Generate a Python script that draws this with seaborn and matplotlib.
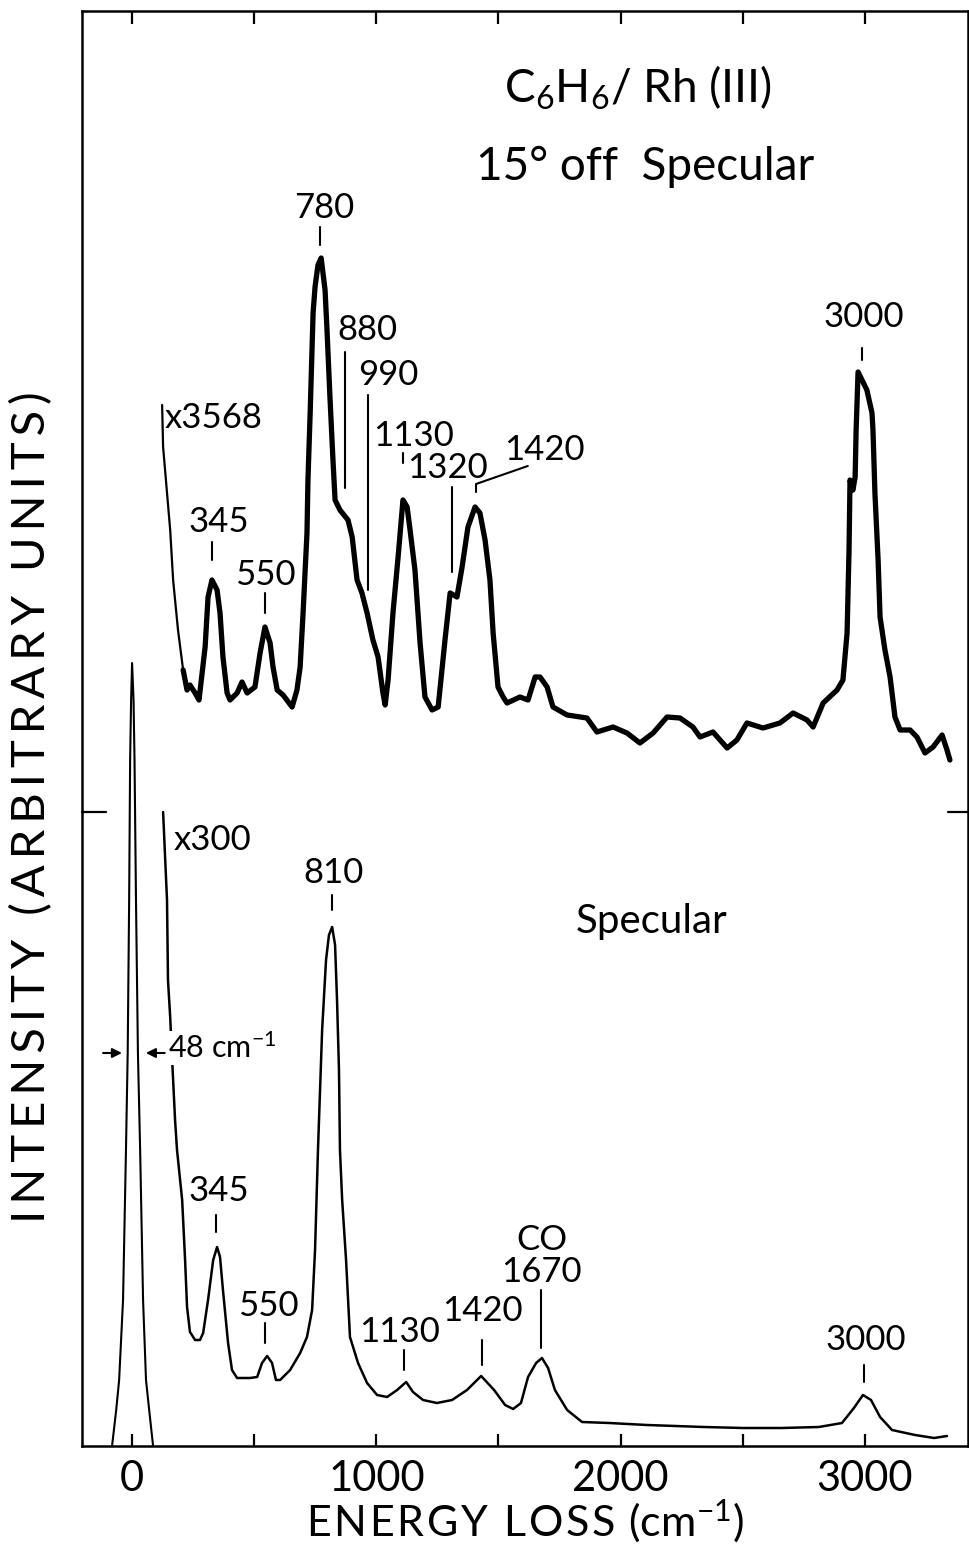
import matplotlib
matplotlib.use("Agg")
import matplotlib.pyplot as plt
import seaborn as sns
import pandas as pd

# ---------------- data (energy loss in cm^-1, intensity in arbitrary units) ----------------
elastic_energy = [-82, -65, -53, -37, -25, -18, -12, -8, -4, 0, 6, 10, 16, 24, 33, 45, 57, 70, 86]
elastic_intensity = [0, 36, 66, 146, 296, 392, 546, 686, 746, 783, 746, 686, 546, 392, 296, 146, 66, 36, 0]

specular_energy = [127, 143, 147, 156, 164, 176, 184, 205, 217, 225, 237, 258, 278, 291, 311, 332,
                   348, 360, 372, 393, 409, 430, 483, 512, 532, 553, 573, 589, 606, 647, 688, 716,
                   737, 749, 761, 778, 794, 806, 819, 831, 839, 847, 851, 860, 876, 892, 925, 962,
                   1003, 1044, 1085, 1122, 1150, 1191, 1248, 1310, 1371, 1429, 1482, 1527, 1560,
                   1592, 1621, 1654, 1678, 1703, 1731, 1781, 1842, 1953, 2108, 2341, 2501, 2657,
                   2812, 2906, 2955, 2992, 3025, 3062, 3111, 3205, 3283, 3336]
specular_intensity = [634, 546, 466, 429, 386, 326, 296, 246, 186, 139, 114, 106, 106, 113, 146, 186,
                      199, 189, 156, 103, 76, 68, 68, 69, 83, 90, 83, 66, 66, 76, 93, 109,
                      136, 196, 296, 416, 486, 511, 519, 501, 446, 376, 296, 246, 186, 109, 83, 63,
                      51, 49, 56, 64, 54, 46, 43, 46, 56, 70, 56, 41, 37,
                      43, 69, 83, 88, 78, 56, 36, 24, 23, 21, 19, 18, 18,
                      19, 23, 38, 51, 46, 29, 16, 11, 8, 10]

off_energy = [123, 127, 156, 168, 188, 209, 225, 237, 258, 274, 299, 311, 327, 348, 360, 372, 389,
              401, 430, 450, 471, 503, 524, 544, 565, 577, 594, 618, 655, 675, 688, 700, 716, 720,
              729, 737, 741, 749, 761, 774, 790, 798, 810, 823, 831, 851, 884, 901, 921, 941, 962,
              986, 1007, 1027, 1036, 1048, 1068, 1089, 1109, 1126, 1138, 1158, 1179, 1199, 1228,
              1253, 1281, 1302, 1330, 1351, 1375, 1404, 1424, 1445, 1465, 1478, 1498, 1519, 1535,
              1588, 1621, 1650, 1670, 1699, 1723, 1781, 1862, 1903, 1969, 2026, 2079, 2133, 2190,
              2243, 2296, 2325, 2378, 2436, 2476, 2517, 2583, 2652, 2706, 2763, 2788, 2829, 2886,
              2910, 2927, 2935, 2939, 2951, 2960, 2964, 2972, 2988, 3008, 3029, 3033, 3041, 3054,
              3062, 3082, 3103, 3123, 3144, 3185, 3213, 3246, 3279, 3316, 3336, 3348]
off_intensity = [1041, 999, 916, 866, 816, 776, 756, 761, 753, 746, 799, 849, 866, 856, 833, 789, 753,
                 746, 753, 764, 753, 759, 793, 819, 803, 779, 756, 751, 739, 756, 779, 833, 913, 966,
                 1033, 1099, 1133, 1159, 1181, 1188, 1156, 1116, 1049, 983, 946, 936, 926, 909, 866, 853, 833,
                 806, 789, 753, 741, 766, 833, 889, 946, 939, 916, 876, 803, 749, 736,
                 739, 806, 853, 849, 879, 919, 939, 933, 906, 866, 813, 759, 749, 743,
                 749, 746, 769, 769, 759, 739, 731, 728, 714, 719, 713, 703, 713, 729,
                 728, 719, 709, 714, 698, 706, 723, 718, 723, 733, 726, 719, 743, 756,
                 766, 813, 896, 966, 956, 969, 1016, 1074, 1066, 1056, 1033, 1016, 953, 886,
                 829, 796, 769, 729, 716, 716, 709, 693, 699, 711, 696, 686]

x_major_ticks = [0, 1000, 2000, 3000]
x_minor_ticks = [500, 1500, 2500]
x_tick_labels = ["0", "1000", "2000", "3000"]
baseline_mark = 634

# peak labels: text, text x, text y, tick x, tick y0, tick y1
top_labels = [
    ("345", 356, 924, 327, 886, 904),
    ("550", 544, 871, 544, 833, 853),
    ("780", 786, 1238, 770, 1201, 1219),
    ("880", 962, 1116, 872, 958, 1094),
    ("990", 1048, 1071, 966, 856, 1051),
    ("1130", 1154, 1010, 1109, 983, 993),
    ("1320", 1293, 978, 1310, 874, 959),
    ("3000", 2996, 1129, 2988, 1086, 1098),
]
bottom_labels = [
    ("810", 823, 573, 819, 536, 551),
    ("345", 356, 255, 344, 214, 231),
    ("550", 557, 140, 544, 103, 123),
    ("1130", 1097, 114, 1113, 76, 96),
    ("1420", 1433, 135, 1433, 81, 106),
    ("1670", 1676, 174, 1674, 98, 156),
    ("3000", 3005, 106, 2996, 64, 81),
]


def spaced(s, gap):
    return gap.join(s)


# ---------------- styling ----------------
sns.set_theme(style="white")
FONT = ["Lato", "DejaVu Sans"]
plt.rcParams["font.family"] = FONT
plt.rcParams["font.weight"] = "normal"
plt.rcParams["mathtext.fontset"] = "custom"
plt.rcParams["mathtext.rm"] = "Lato"
plt.rcParams["mathtext.it"] = "Lato"
plt.rcParams["text.color"] = "black"
plt.rcParams["axes.labelcolor"] = "black"
plt.rcParams["xtick.color"] = "black"
plt.rcParams["axes.linewidth"] = 1.8

fig = plt.figure(figsize=(9.7, 15.46), dpi=100)
ax = fig.add_axes([82 / 970, 100 / 1546, 886 / 970, 1435 / 1546])

df_el = pd.DataFrame({"E": elastic_energy, "I": elastic_intensity})
df_sp = pd.DataFrame({"E": specular_energy, "I": specular_intensity})
df_off = pd.DataFrame({"E": off_energy, "I": off_intensity})

sns.lineplot(data=df_el, x="E", y="I", ax=ax, color="black", lw=1.5, estimator=None, sort=False)
sns.lineplot(data=df_sp, x="E", y="I", ax=ax, color="black", lw=1.8, estimator=None, sort=False)
sns.lineplot(data=df_off.iloc[:6], x="E", y="I", ax=ax, color="black", lw=1.6, estimator=None, sort=False)
sns.lineplot(data=df_off.iloc[5:], x="E", y="I", ax=ax, color="black", lw=3.8, estimator=None, sort=False)

ax.set_xlim(-205, 3422)
ax.set_ylim(0, 1435)
ax.set_xticks(x_major_ticks)
ax.set_xticklabels(x_tick_labels)
ax.set_xticks(x_minor_ticks, minor=True)
ax.set_yticks([])
ax.tick_params(axis="x", which="both", direction="in", length=9, width=1.6,
               top=True, bottom=True, labelsize=30, pad=10, colors="black")
ax.tick_params(axis="x", which="both", labeltop=False)
for s in ax.spines.values():
    s.set_color("black")
    s.set_linewidth(1.8)

ax.set_xlabel(spaced("ENERGY LOSS ", "\u200a") + "(cm$^{-1}$)", fontsize=31, labelpad=0)
ax.set_ylabel(spaced("INTENSITY (ARBITRARY UNITS)", "\u2009"), fontsize=34)
ax.yaxis.set_label_coords(-0.033, 0.445)

# baseline marks on left and right spines
ax.plot([-205, -105], [baseline_mark, baseline_mark], color="black", lw=1.6, clip_on=False)
ax.plot([3340, 3422], [baseline_mark, baseline_mark], color="black", lw=1.6, clip_on=False)

fs = 25
for txt, tx, ty, kx, k0, k1 in top_labels + bottom_labels:
    ax.text(tx, ty, txt, ha="center", va="center", fontsize=fs)
    ax.plot([kx, kx], [k0, k1], color="black", lw=1.5)

# top 1420 label with leader
ax.text(1690, 996, "1420", ha="center", va="center", fontsize=fs)
ax.plot([1408, 1408, 1620], [954, 962, 980], color="black", lw=1.5)
ax.text(1676, 206, "CO", ha="center", va="center", fontsize=fs)

ax.text(135, 1028, "x3568", ha="left", va="center", fontsize=fs)
ax.text(168, 606, "x300", ha="left", va="center", fontsize=fs)
ax.text(2128, 524, "Specular", ha="center", va="center", fontsize=29)
ax.text(2070, 1358, "C$_6$H$_6$/ Rh (III)", ha="center", va="center", fontsize=33)
ax.text(2100, 1279, "15\u00b0 off  Specular", ha="center", va="center", fontsize=33)

# FWHM marker of the elastic peak
ax.text(148, 398, "48 cm$^{-1}$", ha="left", va="center", fontsize=22,
        bbox=dict(facecolor="white", edgecolor="none", pad=1))
ax.annotate("", xy=(-30, 393), xytext=(-130, 393),
            arrowprops=dict(arrowstyle="-|>", color="black", lw=1.5, mutation_scale=14))
ax.annotate("", xy=(45, 393), xytext=(145, 393),
            arrowprops=dict(arrowstyle="-|>", color="black", lw=1.5, mutation_scale=14))

fig.savefig("out.png", dpi=100)
